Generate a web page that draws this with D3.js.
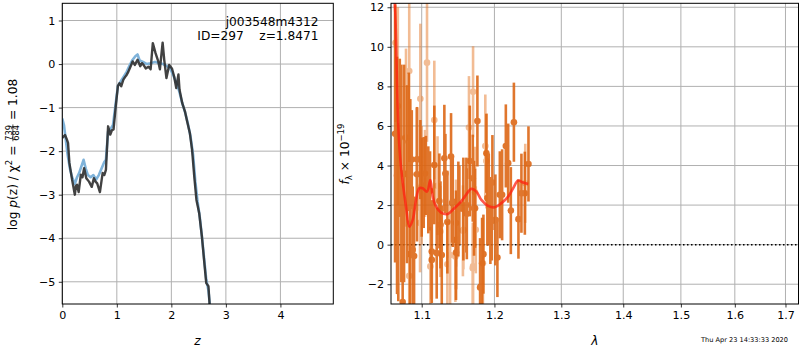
<!DOCTYPE html>
<meta charset="utf-8">
<head>
<script src="https://cdn.jsdelivr.net/npm/d3@7"></script>
<style>
  body { margin: 0; background: #fff; }
  svg { font-family: "DejaVu Sans", sans-serif; }
  svg text { white-space: pre; }
  .tick text { font-size: 11.1px; fill: #000; }
  .grid line { stroke: #b0b0b0; stroke-width: 1; }
</style>
</head>
<body>
<svg id="fig" width="800" height="350"></svg>
<script>

// ---- left panel: log p(z)
var zDark = [0.00,0.026,0.05,0.08,0.105,0.13,0.18,0.23,0.25,0.27,0.30,0.34,0.37,0.40,0.44,0.49,0.54,0.58,0.61,0.64,0.69,0.74,0.77,0.80,0.84,0.88,0.91,0.94,0.98,1.02,1.05,1.08,1.12,1.15,1.18,1.21,1.24,1.29,1.33,1.38,1.43,1.46,1.49,1.53,1.58,1.62,1.66,1.71,1.76,1.79,1.84,1.87,1.91,1.96,2.01,2.05,2.09,2.13,2.15,2.20,2.25,2.29,2.34,2.38,2.42,2.46,2.51,2.56,2.60,2.64,2.68,2.70,2.73];
var pDark = [-1.70,-1.66,-1.63,-1.72,-1.81,-2.27,-2.66,-3.00,-2.80,-2.77,-2.94,-2.54,-2.60,-2.39,-2.62,-2.70,-2.82,-2.62,-2.70,-2.74,-2.94,-2.50,-2.55,-2.43,-1.43,-1.62,-1.52,-1.50,-0.97,-0.50,-0.44,-0.51,-0.36,-0.30,-0.25,-0.18,-0.09,0.06,-0.02,0.10,-0.05,0.02,-0.02,-0.10,-0.06,-0.12,0.48,0.25,0.06,-0.12,0.49,0.09,-0.32,-0.02,-0.10,-0.28,-0.55,-0.24,-0.59,-0.90,-1.09,-1.32,-1.59,-1.97,-2.58,-3.12,-3.42,-3.96,-4.50,-5.03,-5.10,-5.49,-5.90];
var zBlue = [0.00,0.03,0.06,0.10,0.14,0.18,0.23,0.27,0.31,0.35,0.39,0.43,0.47,0.52,0.57,0.62,0.67,0.72,0.77,0.80,0.84,0.88,0.93,0.98,1.02,1.07,1.12,1.18,1.24,1.29,1.34,1.38,1.42,1.48,1.55,1.62,1.70,1.78,1.85,1.92,1.98,2.05,2.10,2.15,2.20,2.25,2.30,2.35,2.40,2.44,2.48,2.52,2.56,2.60,2.64,2.68,2.72];
var pBlue = [-1.25,-1.40,-1.70,-2.10,-2.40,-2.60,-2.75,-2.60,-2.50,-2.35,-2.20,-2.40,-2.55,-2.60,-2.55,-2.65,-2.55,-2.40,-2.25,-2.20,-1.55,-1.50,-1.40,-0.90,-0.50,-0.40,-0.30,-0.18,-0.02,0.10,0.18,0.22,0.08,0.05,0.00,0.02,0.05,0.02,0.00,-0.05,-0.10,-0.30,-0.45,-0.65,-0.90,-1.10,-1.35,-1.65,-2.10,-2.70,-3.15,-3.50,-3.95,-4.45,-4.95,-5.20,-5.70];
var zTicks = [0, 1, 2, 3, 4];
var pTicks = [-5, -4, -3, -2, -1, 0, 1];

// ---- right panel: spectrum, lambda in micron, flux in 1e-19
var lamDark  = [1.0655,1.0680,1.0696,1.0715,1.0735,1.0752,1.0770,1.0808,1.0830,1.0847,1.0851,1.0870,1.0882,1.0900,1.0938,1.0938,1.0982,1.1000,1.1026,1.1055,1.1087,1.1110,1.1133,1.1133,1.1167,1.1199,1.1235,1.1250,1.1267,1.1302,1.1316,1.1343,1.1393,1.1407,1.1416,1.1461,1.1461,1.1493,1.1507,1.1562,1.1604,1.1610,1.1651,1.1693,1.1711,1.1725,1.1758,1.1796,1.1806,1.1824,1.1843,1.1885,1.1899,1.1919,1.1942,1.1962,1.1971,1.2014,1.2043,1.2078,1.2111,1.2165,1.2199,1.2238,1.2283,1.2350,1.2394,1.2445,1.2499];
var fluxDark = [5.6,3.5,1.64,5.4,3.6,-2.9,3.6,3.56,5.2,-0.48,3.56,4.3,-0.26,-0.57,3.56,4.32,4.3,2.9,3.14,3.5,2.77,2.72,-0.35,-0.77,4.03,-0.43,2.21,1.0,-0.52,4.37,3.6,1.14,4.45,2.1,2.18,0.24,-0.4,1.8,2.0,1.8,2.0,1.56,4.23,3.36,1.84,1.84,6.25,-2.17,-2.12,-0.94,-0.48,4.62,2.35,2.3,1.22,1.2,3.14,1.25,-0.65,2.52,2.52,4.99,4.12,1.72,6.19,1.29,2.6,2.6,4.08];
var errDark  = [6.5,6.0,4.5,4.0,5.5,6.0,5.5,4.5,3.5,3.5,3.8,2.5,3.2,3.0,3.4,2.6,2.0,2.5,2.3,2.0,2.2,2.0,2.6,2.0,3.0,2.3,2.4,2.2,2.5,2.7,2.0,2.6,2.2,2.0,2.3,2.5,2.4,2.4,2.0,2.6,2.4,2.3,2.8,2.2,2.4,2.0,2.3,2.5,2.2,2.3,2.0,2.0,2.4,2.3,2.2,2.0,2.4,2.3,2.0,2.2,2.3,2.1,2.0,2.2,2.0,2.0,2.0,2.1,1.9];
var lamLight  = [1.0660,1.0690,1.0795,1.0837,1.0837,1.0982,1.0978,1.1000,1.1070,1.1044,1.1114,1.1167,1.1210,1.1248,1.1343,1.1380,1.1452,1.1461,1.1556,1.1562,1.1640,1.1693,1.1697,1.1697,1.1725,1.1735,1.1836,1.1870,1.1885,1.2451];
var fluxLight = [10.2,7.0,5.41,8.78,-1.58,7.37,1.1,3.0,9.2,3.6,-1.1,6.3,2.98,0.66,-0.99,-0.52,-0.6,1.09,0.7,0.75,5.92,-1.19,7.73,-1.1,2.65,0.75,-0.94,4.99,4.23,3.1];
var errLight  = [4.0,5.0,4.5,4.6,2.8,3.8,2.5,3.0,4.0,2.2,2.0,3.0,2.5,2.3,2.2,2.5,2.3,2.2,2.3,2.0,2.6,2.3,2.3,2.0,2.3,2.2,2.3,2.6,2.4,2.0];
var lamModel  = [1.0620,1.0654,1.0665,1.0696,1.0730,1.0795,1.0838,1.0882,1.0925,1.0968,1.1013,1.1070,1.1114,1.1146,1.1190,1.1257,1.1348,1.1438,1.1530,1.1582,1.1673,1.1744,1.1814,1.1909,1.2005,1.2101,1.2199,1.2272,1.2345,1.2419,1.2494];
var fluxModel = [13.5,12.0,10.7,5.97,3.95,1.93,0.91,1.25,2.26,2.85,2.85,2.68,3.27,2.43,1.93,1.62,1.55,1.84,2.18,2.43,2.82,2.68,2.26,1.96,1.89,2.10,2.43,2.85,3.24,3.14,3.07];
var lamTicks  = [1.1, 1.2, 1.3, 1.4, 1.5, 1.6, 1.7];
var fluxTicks = [-2, 0, 2, 4, 6, 8, 10, 12];

var svg = d3.select("#fig");
var minus = function(s){ return String(s).replace("-", "\u2212"); };

// panel boxes
var L = {x0: 62.3, x1: 333.3, y0: 3.3, y1: 304};
var R = {x0: 391, x1: 798.5, y0: 3.3, y1: 304};

var zx = d3.scaleLinear().domain([0, 4.97]).range([L.x0, L.x1]);
var zy = d3.scaleLinear().domain([-5.51, 1.395]).range([L.y1, L.y0]);
var lx = d3.scaleLog().domain([1.0603, 1.7267]).range([R.x0, R.x1]);
var fy = d3.scaleLinear().domain([-3.0, 12.2]).range([R.y1, R.y0]);

function clip(id, B){
  svg.append("clipPath").attr("id", id).append("rect")
    .attr("x", B.x0).attr("y", B.y0).attr("width", B.x1 - B.x0).attr("height", B.y1 - B.y0);
}
clip("clipL", L);
clip("clipR", R);

function grid(B, xs, xt, ys, yt){
  var g = svg.append("g").attr("class", "grid");
  g.selectAll(".gx").data(xt).enter().append("line")
    .attr("x1", function(d){ return xs(d); }).attr("x2", function(d){ return xs(d); })
    .attr("y1", B.y0).attr("y2", B.y1);
  g.selectAll(".gy").data(yt).enter().append("line")
    .attr("y1", function(d){ return ys(d); }).attr("y2", function(d){ return ys(d); })
    .attr("x1", B.x0).attr("x2", B.x1);
}
grid(L, zx, zTicks, zy, pTicks);
grid(R, lx, lamTicks, fy, fluxTicks);

// left curves
var lineL = d3.line().x(function(d){ return zx(d[0]); }).y(function(d){ return zy(d[1]); });
var gl = svg.append("g").attr("clip-path", "url(#clipL)");
gl.append("path").datum(d3.zip(zBlue, pBlue)).attr("d", lineL)
  .attr("fill", "none").attr("stroke", "#7fb3da").attr("stroke-width", 2.6).attr("stroke-linejoin", "round");
gl.append("path").datum(d3.zip(zDark, pDark)).attr("d", lineL)
  .attr("fill", "none").attr("stroke", "#2e2e2e").attr("stroke-opacity", 0.9).attr("stroke-width", 2.4).attr("stroke-linejoin", "round");

// right: zero line, error bars, model
var gr = svg.append("g").attr("clip-path", "url(#clipR)");
gr.append("line").attr("x1", R.x0).attr("x2", R.x1).attr("y1", fy(0)).attr("y2", fy(0))
  .attr("stroke", "#000").attr("stroke-width", 1.5).attr("stroke-dasharray", "1.5,2.5");

function errbars(lam, flux, err, col, op){
  var d = d3.range(lam.length).map(function(i){ return [lam[i], flux[i], err[i]]; });
  var g = gr.append("g").attr("opacity", op);
  g.selectAll("line").data(d).enter().append("line")
    .attr("x1", function(d){ return lx(d[0]); }).attr("x2", function(d){ return lx(d[0]); })
    .attr("y1", function(d){ return fy(d[1] - d[2]); }).attr("y2", function(d){ return fy(d[1] + d[2]); })
    .attr("stroke", col).attr("stroke-width", 2.6);
  g.selectAll("circle").data(d).enter().append("circle")
    .attr("cx", function(d){ return lx(d[0]); }).attr("cy", function(d){ return fy(d[1]); })
    .attr("r", 3.3).attr("fill", col);
}
errbars(lamLight, fluxLight, errLight, "#e57a2c", 0.5);
errbars(lamDark, fluxDark, errDark, "#dc6410", 0.88);

var lineR = d3.line().curve(d3.curveCatmullRom).x(function(d){ return lx(d[0]); }).y(function(d){ return fy(d[1]); });
gr.append("path").datum(d3.zip(lamModel, fluxModel)).attr("d", lineR)
  .attr("fill", "none").attr("stroke", "#ff2010").attr("stroke-opacity", 0.75).attr("stroke-width", 2.6);

// axes
function axes(B, xs, xt, xf, ys, yt, yf){
  svg.append("g").attr("transform", "translate(0," + B.y1 + ")")
    .call(d3.axisBottom(xs).tickValues(xt).tickFormat(xf).tickSize(3.5).tickPadding(3.5))
    .call(function(g){ g.select(".domain").remove(); });
  svg.append("g").attr("transform", "translate(" + B.x0 + ",0)")
    .call(d3.axisLeft(ys).tickValues(yt).tickFormat(yf).tickSize(3.5).tickPadding(3.5))
    .call(function(g){ g.select(".domain").remove(); });
  svg.append("rect").attr("x", B.x0).attr("y", B.y0).attr("width", B.x1 - B.x0).attr("height", B.y1 - B.y0)
    .attr("fill", "none").attr("stroke", "#000").attr("stroke-width", 1);
}
axes(L, zx, zTicks, function(d){ return d; }, zy, pTicks, minus);
axes(R, lx, lamTicks, d3.format(".1f"), fy, fluxTicks, minus);
svg.selectAll(".tick line").attr("stroke", "#000").attr("stroke-width", 0.8);
svg.selectAll(".tick text").attr("font-family", "DejaVu Sans").attr("font-size", 11.1);

// annotation
var ann = svg.append("text").attr("text-anchor", "end").attr("font-size", 12.2).attr("x", 318.5);
ann.append("tspan").attr("x", 318.5).attr("y", 25.5).text("j003548m4312");
ann.append("tspan").attr("x", 318.5).attr("y", 39.5).text("ID=297    z=1.8471");

// x labels
svg.append("text").attr("x", zx(2.48)).attr("y", 345).attr("text-anchor", "middle")
  .attr("font-size", 12.2).attr("font-style", "italic").text("z");
svg.append("text").attr("x", (R.x0 + R.x1) / 2).attr("y", 345).attr("text-anchor", "middle")
  .attr("font-size", 12.2).attr("font-style", "italic").text("\u03bb");

// rotated label built from pieces
function rotLabel(cx, cy, pieces, fs){
  var g = svg.append("g").attr("transform", "translate(" + cx + "," + cy + ") rotate(-90)");
  var x = 0;
  pieces.forEach(function(p){
    if (p.frac) {
      var s = fs * 0.68;
      var a = g.append("text").attr("font-size", s).attr("x", x).attr("y", -5.3).text(p.frac[0]);
      var b = g.append("text").attr("font-size", s).attr("x", x).attr("y", 2.2).text(p.frac[1]);
      var w = Math.max(a.node().getComputedTextLength(), b.node().getComputedTextLength());
      a.attr("x", x + 1 + (w - a.node().getComputedTextLength()) / 2);
      b.attr("x", x + 1 + (w - b.node().getComputedTextLength()) / 2);
      g.append("line").attr("x1", x + 0.5).attr("x2", x + w + 1.5).attr("y1", -4.1).attr("y2", -4.1)
        .attr("stroke", "#000").attr("stroke-width", 0.7);
      x += w + 2;
      return;
    }
    var t = g.append("text").attr("font-size", fs * (p.scale || 1)).attr("x", x).attr("y", p.dy || 0).text(p.t);
    if (p.it) t.attr("font-style", "italic");
    x += t.node().getComputedTextLength();
  });
  g.selectAll("text, line").attr("transform", "translate(" + (-x / 2) + ",0)");
}
rotLabel(17, 154.5, [
  {t: "log "}, {t: "p", it: true}, {t: "(z) / \u03c7"}, {t: "2", scale: 0.7, dy: -5},
  {t: " = "}, {frac: ["739", "684"]}, {t: " = 1.08"}
], 12.2);
rotLabel(349, 154, [
  {t: "f", it: true}, {t: "\u03bb", scale: 0.7, dy: 2.5}, {t: " \u00d7 10"}, {t: "\u221219", scale: 0.7, dy: -5}
], 12.2);

// timestamp
svg.append("text").attr("x", 788).attr("y", 341.5).attr("text-anchor", "end")
  .attr("font-size", 6.6).text("Thu Apr 23 14:33:33 2020");

</script>
</body>
